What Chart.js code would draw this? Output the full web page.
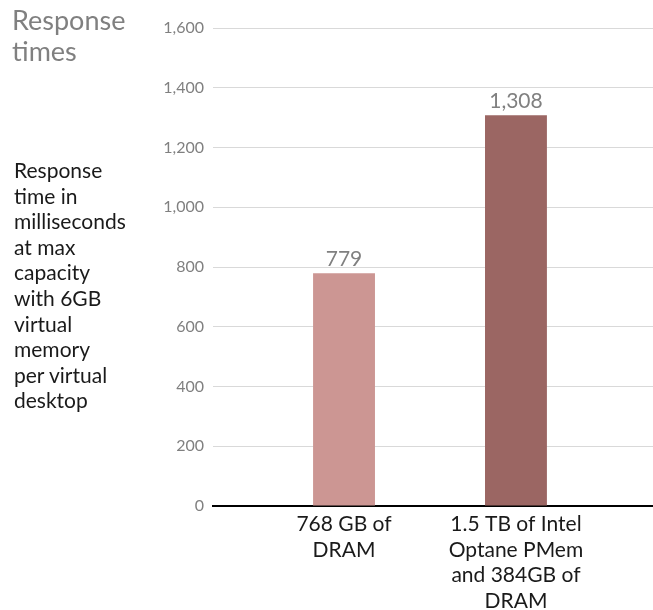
<!DOCTYPE html>
<html>
<head>
<meta charset="utf-8">
<script src="https://cdn.jsdelivr.net/npm/chart.js@4/dist/chart.umd.min.js"></script>
<style>
  html, body { margin: 0; padding: 0; background: #fff; }
  #wrap { position: relative; width: 653px; height: 610px; font-family: Lato, "Noto Sans", sans-serif; }
  #title { position: absolute; left: 12px; top: 4px; font-size: 27px; line-height: 31px; color: #808080; }
  #caption { position: absolute; left: 14px; top: 157px; font-size: 21px; line-height: 25.6px; color: #1a1a1a; width: 140px; }
  canvas { position: absolute; left: 0; top: 0; }
</style>
</head>
<body>
<div id="wrap">
  <canvas id="c" width="653" height="610"></canvas>
  <div id="title">Response<br>times</div>
  <div id="caption">Response<br>time in<br>milliseconds<br>at max<br>capacity<br>with 6GB<br>virtual<br>memory<br>per virtual<br>desktop</div>
</div>
<script>
const categories = [
  ["768 GB of", "DRAM"],
  ["1.5 TB of Intel", "Optane PMem", "and 384GB of", "DRAM"]
];
const responseTimes = [779, 1308];
const barColors = ["#cc9693", "#9b6663"];
const yTicks = [0, 200, 400, 600, 800, 1000, 1200, 1400, 1600];

const valueLabels = {
  id: 'valueLabels',
  afterDatasetsDraw(chart) {
    const ctx = chart.ctx;
    const meta = chart.getDatasetMeta(0);
    ctx.save();
    ctx.font = '21px Lato, "Noto Sans", sans-serif';
    ctx.fillStyle = '#808080';
    ctx.textAlign = 'center';
    ctx.textBaseline = 'bottom';
    meta.data.forEach((bar, i) => {
      ctx.fillText(responseTimes[i].toLocaleString('en-US'), bar.x, bar.y - 4);
    });
    ctx.restore();
  }
};

new Chart(document.getElementById('c'), {
  type: 'bar',
  data: {
    datasets: [{
      data: responseTimes.map((v, i) => ({ x: i, y: v })),
      backgroundColor: barColors,
      borderWidth: 0,
      barPercentage: 0.36,
      categoryPercentage: 1
    }]
  },
  options: {
    responsive: false,
    animation: false,
    layout: { padding: { top: 28, right: 0, left: 0, bottom: 0 } },
    plugins: { legend: { display: false }, tooltip: { enabled: false } },
    scales: {
      x: {
        type: 'linear',
        min: -0.762,
        max: 1.797,
        offset: false,
        afterBuildTicks: (s) => { s.ticks = categories.map((_, i) => ({ value: i })); },
        afterFit: (s) => { s.height = 104; },
        grid: { display: false, drawTicks: false },
        border: { display: true, color: '#000', width: 2 },
        ticks: {
          autoSkip: false,
          maxRotation: 0,
          padding: 5,
          color: '#1a1a1a',
          font: { family: 'Lato, "Noto Sans", sans-serif', size: 21, lineHeight: 1.23 },
          callback: (v) => categories[v]
        }
      },
      y: {
        min: 0,
        max: 1600,
        afterFit: (s) => { s.width = 213; },
        afterBuildTicks: (s) => { s.ticks = yTicks.map(v => ({ value: v })); },
        grid: { color: '#d9d9d9', lineWidth: 1, drawTicks: false },
        border: { display: false },
        ticks: {
          padding: 9,
          color: '#808080',
          font: { family: 'Lato, "Noto Sans", sans-serif', size: 16 },
          callback: (v) => v.toLocaleString('en-US')
        }
      }
    }
  },
  plugins: [valueLabels]
});
</script>
</body>
</html>
